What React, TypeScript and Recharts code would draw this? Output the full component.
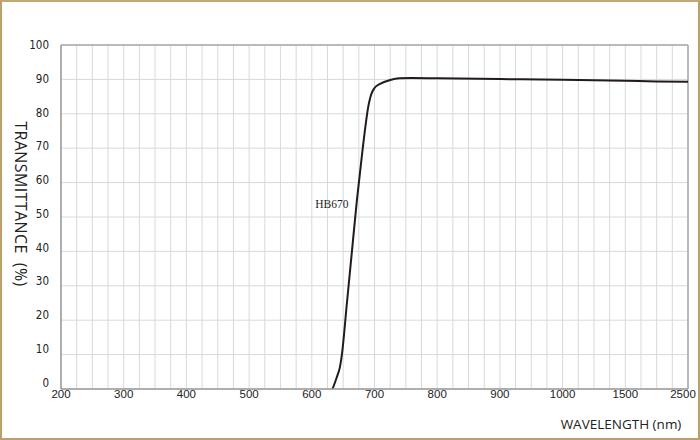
import { LineChart, Line, XAxis, YAxis, CartesianGrid, ReferenceLine, ReferenceDot } from 'recharts'

// measured transmittance curve of the HB670 filter
const WAVELENGTHS = [633, 640, 645, 648, 656, 664, 672, 680, 686, 690, 693, 696, 700, 709, 725, 740, 760, 800, 900, 1000, 1500, 2000, 2500]
const TRANSMITTANCE = [0, 3.5, 6.5, 10, 25, 40, 55, 68, 77, 82, 84.5, 86.2, 87.5, 88.7, 89.8, 90.3, 90.4, 90.3, 90.1, 89.9, 89.6, 89.4, 89.3]

// x axis is not linear: equal spacing between these labelled wavelengths
const X_TICK_VALUES = [200, 300, 400, 500, 600, 700, 800, 900, 1000, 1500, 2500]
const X_TICK_LABELS = ['200', '300', '400', '500', '600', '700', '800', '900', '1000', '1500', '2500']
const Y_TICKS = [0, 10, 20, 30, 40, 50, 60, 70, 80, 90, 100]

const CURVE_NAME = 'HB670'

function toAxis(w: number) {
  for (let i = 0; i < X_TICK_VALUES.length - 1; i++) {
    const a = X_TICK_VALUES[i]
    const b = X_TICK_VALUES[i + 1]
    if (w <= b) return i + (w - a) / (b - a)
  }
  return X_TICK_VALUES.length - 1
}

const data = WAVELENGTHS.map((w, i) => ({ pos: toAxis(w), t: TRANSMITTANCE[i] }))

// vertical grid every quarter of a label step
const lastIdx = X_TICK_VALUES.length - 1
const gridTicks = Array.from({ length: lastIdx * 4 + 1 }, (_, i) => i / 4)

function XTick(props: any) {
  const { x, y, payload } = props
  const v = payload.value
  if (!Number.isInteger(v)) return null
  return (
    <text x={x} y={y} dy={9} dx={v === lastIdx ? -5 : 0} textAnchor="middle"
      style={{ fontFamily: 'Liberation Sans, Arial, sans-serif', fontSize: 11.5, fill: '#222' }}>
      {X_TICK_LABELS[v]}
    </text>
  )
}

function YTick(props: any) {
  const { x, y, payload } = props
  // labels sit a little above their grid lines, more so near the bottom
  const lift = -(100 - payload.value) * 0.065
  return (
    <text x={x} y={y + lift} dy={4} textAnchor="end"
      style={{ fontFamily: 'Liberation Sans Narrow, Arial Narrow, DejaVu Sans Condensed, Liberation Sans, sans-serif', fontSize: 11.5, fill: '#222' }}>
      {payload.value}
    </text>
  )
}

export default function App() {
  return (
    <div style={{ position: 'absolute', left: 0, top: 0, width: 700, height: 440, background: '#fff' }}>
      <LineChart width={700} height={440} data={data} margin={{ top: 45, right: 12, bottom: 21, left: 21 }}>
        <CartesianGrid stroke="#d9d9d9" strokeWidth={1} />
        <XAxis
          type="number"
          dataKey="pos"
          domain={[0, lastIdx]}
          ticks={gridTicks}
          interval={0}
          height={30}
          tickLine={false}
          tickSize={0}
          tickMargin={0}
          axisLine={{ stroke: '#9a9a9a', strokeWidth: 1.5 }}
          tick={<XTick />}
          label={{
            content: () => (
              <text x={621} y={424} textAnchor="middle" dominantBaseline="central"
                style={{ fontFamily: 'Open Sans, sans-serif', fontSize: 13.5, fill: '#222' }}>
                WAVELENGTH (nm)
              </text>
            ),
          }}
        />
        <YAxis
          type="number"
          domain={[0, 100]}
          ticks={Y_TICKS}
          interval={0}
          width={40}
          tickLine={false}
          tickSize={0}
          tickMargin={12}
          axisLine={{ stroke: '#9a9a9a', strokeWidth: 1.5 }}
          tick={<YTick />}
          label={{
            content: () => (
              <text transform="translate(21,204) rotate(90)" textAnchor="middle" dominantBaseline="central"
                style={{ fontFamily: 'Open Sans, sans-serif', fontSize: 16, letterSpacing: 0.4, fill: '#222', whiteSpace: 'pre' }}>
                TRANSMITTANCE  (%)
              </text>
            ),
          }}
        />
        <ReferenceLine y={100} stroke="#a8a8a8" strokeWidth={1.5} />
        <ReferenceLine x={lastIdx} stroke="#a8a8a8" strokeWidth={1.5} />
        <ReferenceDot
          x={toAxis(632)}
          y={53.7}
          r={0}
          fill="none"
          stroke="none"
          label={{ value: CURVE_NAME, position: 'center', fontFamily: 'Liberation Serif, serif', fontSize: 11.5, fill: '#222' }}
        />
        <Line
          type="monotone"
          dataKey="t"
          stroke="#231a1a"
          strokeWidth={2}
          dot={false}
          isAnimationActive={false}
        />
      </LineChart>
      <div style={{ position: 'absolute', inset: 0, border: '2px solid #bca06a', borderTopColor: '#c2a872', pointerEvents: 'none' }} />
    </div>
  )
}
